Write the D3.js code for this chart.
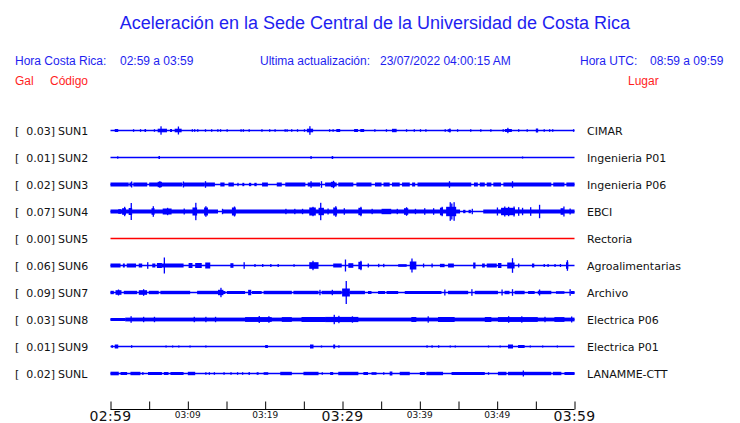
<!DOCTYPE html>
<html><head><meta charset="utf-8">
<script src="https://cdn.jsdelivr.net/npm/d3@7"></script>
<style>body{margin:0;background:#fff}svg{display:block}</style>
</head><body><div id="chart"></div>
<script>
// ---------- DATA ----------
const title = "Aceleración en la Sede Central de la Universidad de Costa Rica";
const horaCR = "02:59 a 03:59";
const horaUTC = "08:59 a 09:59";
const actualizacion = "23/07/2022 04:00:15 AM";
const codes = ["SUN1","SUN2","SUN3","SUN4","SUN5","SUN6","SUN7","SUN8","SUN9","SUNL"];
const gals = ["0.03","0.01","0.02","0.07","0.00","0.06","0.09","0.03","0.01","0.02"];
const places = ["CIMAR","Ingenieria P01","Ingenieria P06","EBCI","Rectoria","Agroalimentarias","Archivo","Electrica P06","Electrica P01","LANAMME-CTT"];
const tickMinutes = [0,5,10,15,20,25,30,35,40,45,50,55,60];
const tickLabels = {0:"02:59",10:"03:09",20:"03:19",30:"03:29",40:"03:39",50:"03:49",60:"03:59"};
const majorLabels = [0,30,60];
// envelope segments: [start minute, end minute, half amplitude]
const sun1 = [[0.55,1.0,1.5],[2.9,2.9,1.3],[3.8,3.8,1.3],[4.4,4.6,1.5],[5.6,5.6,1.3],[6.1,7.3,1.8],[6.45,6.45,4.2],[7.7,7.95,1.5],[8.3,9.2,1.8],[8.7,8.7,4],
 [10.5,10.5,1.3],[10.8,10.8,1.3],[11.2,11.2,1.3],[12.2,12.2,1.3],[13.0,13.0,1.3],[13.8,13.8,1.3],[14.15,14.15,1.3],[15.0,15.0,1.3],[16.8,16.8,1.3],[17.1,17.1,1.3],[17.85,17.85,1.3],[19.5,19.5,1.3],[20.5,20.5,1.3],[21.2,21.2,1.3],[22.5,22.5,1.3],[22.75,22.75,1.3],[23.35,23.35,1.3],[24.1,24.1,1.3],[25.0,25.0,1.3],
 [25.4,26.2,1.8],[25.7,25.7,4.3],[28.25,28.25,1.3],[28.7,28.7,1.3],[29.2,29.7,1.5],[31.5,32.0,1.5],[32.3,32.8,1.5],[34.1,34.1,1.3],[35.6,35.6,1.3],[36.4,37.0,1.7],[38.2,38.2,1.3],[39.2,39.2,1.3],[40.0,40.0,1.3],[40.7,40.7,1.3],
 [43.2,43.2,1.3],[43.6,44.0,1.3],[43.8,43.8,2],[44.8,44.8,1.3],[46.5,46.5,1.3],[47.8,47.8,1.3],[49.1,49.1,1.3],[50.7,50.7,1.3],[51.0,51.9,1.5],[51.3,51.3,2.7],[52.7,52.7,1.3],[53.8,53.8,1.3],[55.0,55.3,2.0],[56.0,56.0,1.3],[56.7,56.7,1.3],[57.1,57.1,1.3],[59.8,59.8,1.3]];
const sun2 = [[0.85,0.85,1.2],[6.2,6.4,1.5],[25.85,25.85,1.5],[28.6,28.8,1.5],[53.2,53.2,1.0]];
const sun3 = [[0,2.35,2],[2.45,2.8,2],[2.65,2.65,3],[2.95,4.75,2],[5.0,9.3,2],[6.1,6.65,2.7],[6.3,6.3,3.3],[9.35,9.35,3],[9.5,12.2,2],[12.2,12.2,3.3],[12.25,13.5,2],[14.2,14.75,2],[15.25,15.95,2],[16.4,16.55,1.7],[17.05,17.3,1.7],[17.9,18.2,1.7],[18.6,18.9,1.7],[19.6,20.35,2],[21.5,22.15,2],[22.6,25.2,2],[25.5,27.1,2],[25.85,25.85,3.3],[27.2,27.2,3.3],[27.75,29.25,2],[28.5,29.0,2.7],[28.75,28.75,3.7],[29.45,31.4,2],[31.8,33.75,2],[34.2,35.05,2],[35.3,36.1,2],[36.4,37.4,2],[37.7,38.7,2],[39.0,39.4,2],[39.7,46.65,2],[43.75,43.75,3.3],[47.0,47.5,2],[47.75,48.4,2],[48.65,49.25,2],[49.5,50.5,2],[50.8,57.0,2],[51.9,51.9,3.3],[57.25,58.7,2],[58.95,60,2]];
const sun4 = [[0,13.9,2],[14.5,45.2,2],[45.6,45.9,1.7],[46.3,46.6,1.7],[48.2,60,2],
 [1.0,1.4,2.3],[1.5,2.0,3.3],[1.75,1.75,4.7],[2.35,2.8,3.5],[2.6,2.6,8.5],[5.3,5.7,3.3],[5.45,5.45,5.3],[6.75,7.9,3],[7.3,7.3,3.7],[9.45,9.45,3],[10.6,11.2,4],[10.95,10.95,8.7],[12.1,12.6,4],[12.25,12.25,5.3],[14.4,14.4,2.7],[15.7,16.2,4],[15.95,15.95,5],
 [22.6,22.6,2.7],[23.75,23.75,2.7],[24.75,24.75,2.7],[25.7,26.55,4],[26.1,26.1,4.7],[26.9,27.6,3.7],[27.1,27.1,8.7],[28.05,28.05,3],[28.8,29.3,4],[29.05,29.05,5.3],[30.15,30.15,3.3],[32.05,32.5,3.7],[32.3,32.3,4.7],[33.75,33.75,2.7],[35.05,36.3,2.7],[37.0,37.0,2.7],[37.95,38.5,3.3],[38.2,38.2,4.3],[39.35,39.35,2.7],[40.55,40.55,3.3],[41.7,41.7,3.3],[42.6,43.0,3.8],[42.8,42.8,4.7],
 [43.4,44.7,4.7],[43.85,43.85,9.3],[44.05,44.05,8],[44.35,44.35,9.3],[46.7,46.7,2.7],[49.95,49.95,4],[50.5,52.3,3.7],[50.9,50.9,5],[51.4,51.4,4.7],[52.1,52.1,5],[52.7,52.7,4.3],[53.2,53.2,3.7],[54.25,54.25,4.3],[55.4,55.4,6.7],[58.2,58.6,3.3],[58.55,58.55,5],[59.35,59.35,3]];
const sun5 = [];
const sun6 = [[0,1.3,2],[1.6,1.85,2],[2.1,3.3,2],[3.65,4.1,2],[4.73,4.73,3.3],[5.4,5.8,2],[6.0,6.65,2.5],[6.88,6.88,8],[6.65,9.45,2],[10.1,10.6,2.5],[10.95,11.8,2.5],[12.25,12.9,3],[15.5,15.9,2.3],[17.2,17.2,3.3],[18.6,18.6,1.5],[19.6,19.6,1.5],[20.65,20.65,1.5],[21.6,21.6,1.5],[23.65,23.65,1.3],
 [25.7,26.9,3.3],[26.1,26.1,4.7],[28.8,29.9,2],[30.3,30.3,6],[30.75,31.4,2.3],[32.05,32.5,3.7],[32.3,32.3,4.7],[33.25,33.25,2],[34.6,34.6,1.7],[35.25,35.25,1.7],[37.2,38.3,1.3],[38.7,39.55,4],[38.9,38.9,7],[40.4,40.4,2],[41.5,41.5,2],[42.6,43.2,1.7],[43.65,44.4,2],
 [46.9,47.2,3],[48.05,48.4,2],[48.65,49.95,2],[50.1,50.55,2.5],[51.3,52.25,3],[51.9,51.9,7.3],[52.7,52.7,2],[54.5,54.8,2],[56.0,56.0,1.5],[56.5,56.5,1.5],[57.4,57.4,1.5],[58.1,58.1,1.5],[58.9,59.2,3.3],[59.0,59.0,5.3]];
const sun7 = [[0,0.43,1.7],[0.65,1.42,2.3],[0.95,0.95,3],[1.72,3.44,1.7],[3.66,4.73,2.3],[4.2,4.2,3.3],[4.95,6.24,1.7],[6.45,10.3,1.7],[11.2,14.0,1.7],[13.9,14.6,2.7],[14.2,14.2,4.7],[14.4,14.85,1.5],[15.05,17.4,1.5],[17.8,18.2,2.7],[18.3,19.55,1.5],[19.8,23.45,1.7],[23.65,26.9,1.7],[27.0,27.0,2.7],[27.3,29.9,1.7],[28.6,28.6,2.7],
 [29.95,30.95,4],[30.4,30.4,11.5],[30.95,32.9,1.7],[33.3,33.75,1.5],[34.6,35.5,1.5],[35.7,37.2,1.5],[38.05,42.8,1.5],[43.15,43.15,3],[43.65,46.25,1.7],[46.65,46.65,3.3],[47.1,50.1,1.7],[50.55,50.55,3],[50.95,51.6,1.7],[51.9,51.9,3.3],[52.25,53.55,1.7],[54.0,54.85,1.5],[55.25,57.0,1.7],[55.4,55.4,3],[57.6,58.7,1.3],[59.35,59.35,3.3],[59.55,60,1.5]];
const sun8 = [[0,1.9,1.5],[1.9,60,1.9],[2.58,2.58,3.3],[4.2,4.2,2.7],[5.6,5.6,2.7],[10.75,10.75,2.7],[12.25,12.25,2.7],[13.5,13.5,2.7],[17.4,20.85,2.4],[19.15,19.15,3.5],[20.4,20.4,3.3],[22.15,23.45,2.4],[24.7,27.75,2.5],[27.75,32.05,2.6],[28.85,28.85,4.7],[29.45,29.45,3.7],[31.2,31.2,3.2],
 [38.9,39.55,2.5],[41.0,41.0,3.2],[42.35,44.5,2.5],[48.4,49.25,2.5],[50.1,55.25,2.4],[51.4,51.4,3.3],[53.1,53.1,3.2],[56.1,56.1,2.7],[57.4,58.7,2.4],[59.55,59.55,3]];
const sun9 = [[0.13,0.13,1.5],[0.55,1.0,2],[2.65,2.65,1.3],[7.1,7.1,1],[7.95,7.95,1],[8.75,8.75,1],[10.2,10.2,1],[12.25,12.25,1],[20.0,20.35,1.5],[25.8,26.25,2],[27.2,27.2,1],[28.8,29.05,2],[29.45,29.45,1.2],[40.85,40.85,1.2],[41.5,41.5,1.2],[42.35,42.35,1.2],[43.85,43.85,1],[44.5,44.5,1],[48.8,48.8,1],[50.3,50.3,1],[51.4,52.05,2],[52.7,53.55,1.5],[54.2,54.2,1],[55.8,55.8,1],[57.7,57.7,1]];
const sunL = [[0,1.07,1.8],[1.3,2.15,1.5],[2.58,3.87,1.7],[4.1,4.1,1.5],[4.85,6.65,1.5],[6.9,7.5,1.5],[7.75,9.45,1.5],[10.0,10.95,1.7],[12.25,12.25,1.3],[12.7,12.7,1.3],[13.35,13.35,1.3],[14.6,14.6,1.3],[15.5,15.5,1.3],[16.35,16.35,1.3],[17.0,17.0,1.3],[17.85,18.0,1.5],[18.9,19.15,1.3],[19.8,20.4,1.3],[21.95,23.45,1.7],[24.95,26.9,1.7],[27.3,27.3,1.3],[28.4,28.8,1.5],[29.45,32.05,1.7],[32.7,33.3,1.5],[33.75,34.4,1.3],[35.25,35.25,1.3],[36.1,36.45,2],[37.4,38.7,1.7],[40.0,40.65,1.5],[40.85,43.0,1.7],[44.1,48.4,1.5],[48.8,48.8,1.3],[50.1,51.2,1.7],[51.4,57.0,1.7],[53.3,53.3,3],[57.2,58.3,1.7],[58.7,60,1.5]];
const traces = [sun1,sun2,sun3,sun4,sun5,sun6,sun7,sun8,sun9,sunL];

// ---------- DRAW ----------
const W = 740, H = 423;
const blue = "#1e1ef0", red = "#ff1e1e", traceBlue = "#0000ff";
const svg = d3.select("#chart").append("svg").attr("width", W).attr("height", H);
const sans = "'Liberation Sans', Arial, sans-serif";
const dv = "'DejaVu Sans', sans-serif";

svg.append("text").attr("x", 375).attr("y", 29).attr("text-anchor","middle")
  .attr("font-family", sans).attr("font-size", 18).attr("fill", blue).text(title);

const hdr = [[15,"Hora Costa Rica:"],[120,horaCR],[260,"Ultima actualización:"],[380,actualizacion],[580,"Hora UTC:"],[650,horaUTC]];
svg.selectAll("text.hdr").data(hdr).join("text").attr("class","hdr")
  .attr("x", d=>d[0]).attr("y", 65).attr("font-family", sans).attr("font-size", 12).attr("fill", blue).text(d=>d[1]);
const hdr2 = [[15,"Gal"],[50,"Código"],[628,"Lugar"]];
svg.selectAll("text.hdr2").data(hdr2).join("text").attr("class","hdr2")
  .attr("x", d=>d[0]).attr("y", 85).attr("font-family", sans).attr("font-size", 12).attr("fill", red).text(d=>d[1]);

const x = d3.scaleLinear().domain([0,60]).range([110.5,574.5]);
const rowY = d3.scalePoint().domain(codes).range([130.5, 373.5]);
const amp = d3.scaleLinear().domain([0,1]).range([0,1]);

codes.forEach((c,i)=>{
  const y = rowY(c);
  const g = svg.append("g");
  const col = +gals[i] === 0 ? "#ff0000" : traceBlue;
  g.append("text").attr("x",15).attr("y",y+4).attr("font-family",dv).attr("font-size",11).attr("fill","#111").text("[");
  g.append("text").attr("x",55).attr("y",y+4).attr("text-anchor","end").attr("font-family",dv).attr("font-size",11).attr("fill","#111").text(gals[i]+"]");
  g.append("text").attr("x",58).attr("y",y+4).attr("font-family",dv).attr("font-size",11).attr("fill","#111").text(c);
  g.append("text").attr("x",587).attr("y",y+4).attr("font-family",dv).attr("font-size",11).attr("fill","#111").text(places[i]);
  g.append("line").attr("x1",x(0)).attr("x2",x(60)).attr("y1",y).attr("y2",y)
    .attr("stroke",col).attr("stroke-width",1.3);
  g.selectAll("rect").data(traces[i]).join("rect")
    .attr("x", d=>x(d[0]))
    .attr("width", d=>Math.max(x(d[1])-x(d[0]), 1.3))
    .attr("y", d=>y-amp(d[2]))
    .attr("height", d=>2*amp(d[2]))
    .attr("fill", col);
});

// time axis
const axY = 409.5;
const axis = d3.axisTop(x).tickValues(tickMinutes).tickSize(8).tickFormat("");
const ag = svg.append("g").attr("transform",`translate(0,${axY})`).call(axis);
ag.select(".domain").attr("d", `M${x(0)},0H${x(60)}`).attr("stroke","#000");
ag.selectAll(".tick line").attr("stroke","#000");
svg.selectAll("text.tl").data(Object.keys(tickLabels).map(Number)).join("text").attr("class","tl")
  .attr("x", d=>x(d)).attr("y", d=>majorLabels.includes(d)?420.5:418)
  .attr("text-anchor","middle").attr("font-family",dv)
  .attr("font-size", d=>majorLabels.includes(d)?14:9).attr("fill","#111")
  .attr("letter-spacing", d=>majorLabels.includes(d)?0.3:0)
  .text(d=>tickLabels[d]);
</script></body></html>
